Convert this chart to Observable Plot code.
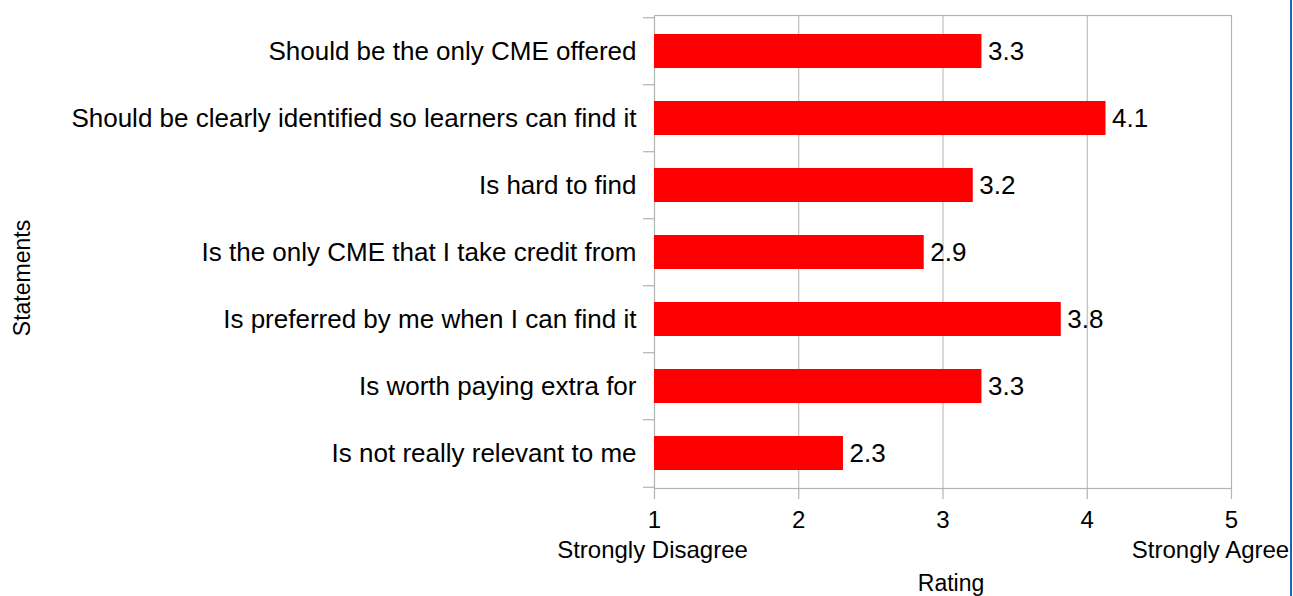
<!DOCTYPE html>
<html>
<head>
<meta charset="utf-8">
<script src="https://cdn.jsdelivr.net/npm/d3@7"></script>
<script src="https://cdn.jsdelivr.net/npm/@observablehq/plot@0.6"></script>
<style>
  html, body { margin: 0; padding: 0; background: #fff; }
  #wrap { position: relative; width: 1293px; height: 596px; overflow: hidden; }
  #edge { position: absolute; left: 1290px; top: 0; width: 2px; height: 596px; background: #2160b8; }
</style>
</head>
<body>
<div id="wrap"><div id="edge"></div></div>
<script>
const statements = [
  "Should be the only CME offered",
  "Should be clearly identified so learners can find it",
  "Is hard to find",
  "Is the only CME that I take credit from",
  "Is preferred by me when I can find it",
  "Is worth paying extra for",
  "Is not really relevant to me"
];
const ratings = [3.27, 4.13, 3.21, 2.87, 3.82, 3.27, 2.31];
const xTicks = [1, 2, 3, 4, 5];
const lowLabel = "Strongly Disagree";
const highLabel = "Strongly Agree";
const xTitle = "Rating";
const yTitle = "Statements";

const data = statements.map((s, i) => ({statement: s, rating: ratings[i]}));

const W = 1293, H = 596, mT = 15, mB = 108, mL = 654, mR = 62;
const step = (H - mT - mB) / statements.length;
const grey = "#b3b3b3";

const chart = Plot.plot({
  width: W,
  height: H,
  marginTop: mT,
  marginBottom: mB,
  marginLeft: mL,
  marginRight: mR,
  style: {fontFamily: "'Liberation Sans', Arial, sans-serif", fontSize: "24px", color: "#000", background: "#fff"},
  x: {domain: [1, 5], ticks: xTicks},
  y: {domain: statements, paddingInner: 0.5, paddingOuter: 0.25},
  marks: [
    Plot.gridX(xTicks, {stroke: grey, strokeOpacity: 1}),
    Plot.frame({stroke: grey, strokeWidth: 1.2}),
    Plot.barX(data, {x1: 1, x2: "rating", y: "statement", fill: "#ff0000"}),
    Plot.text(data, {x: "rating", y: "statement", text: d => d.rating.toFixed(1), textAnchor: "start", dx: 6, fontSize: 26, fill: "#000"}),
    Plot.axisY({tickSize: 0, tickPadding: 18, fontSize: 26, label: null, fill: "#000"}),
    Plot.axisY({tickSize: 11, tickFormat: () => "", dy: -step / 2, label: null, stroke: grey, strokeWidth: 1.2, strokeOpacity: 1}),
    Plot.axisY({ticks: [statements[statements.length - 1]], tickSize: 11, tickFormat: () => "", dy: step / 2, label: null, stroke: grey, strokeWidth: 1.2, strokeOpacity: 1}),
    Plot.axisX({ticks: xTicks, tickFormat: d3.format("d"), tickSize: 11, tickPadding: 11, fontSize: 24, label: null, stroke: grey, strokeWidth: 1.2, strokeOpacity: 1, fill: "#000"}),
    Plot.text([lowLabel], {x: xTicks[0], frameAnchor: "bottom", lineAnchor: "middle", dy: 62, dx: -2, fontSize: 24, fill: "#000"}),
    Plot.text([highLabel], {x: xTicks[xTicks.length - 1], frameAnchor: "bottom", lineAnchor: "middle", dy: 62, dx: -21, fontSize: 24, fill: "#000"}),
    Plot.text([xTitle], {frameAnchor: "bottom", lineAnchor: "middle", dy: 95, dx: 8, fontSize: 23, fill: "#000"}),
    Plot.text([yTitle], {frameAnchor: "left", textAnchor: "middle", lineAnchor: "middle", dx: -(mL - 22), dy: 26, rotate: -90, fontSize: 23, fill: "#000"})
  ]
});
document.getElementById("wrap").prepend(chart);
</script>
</body>
</html>
